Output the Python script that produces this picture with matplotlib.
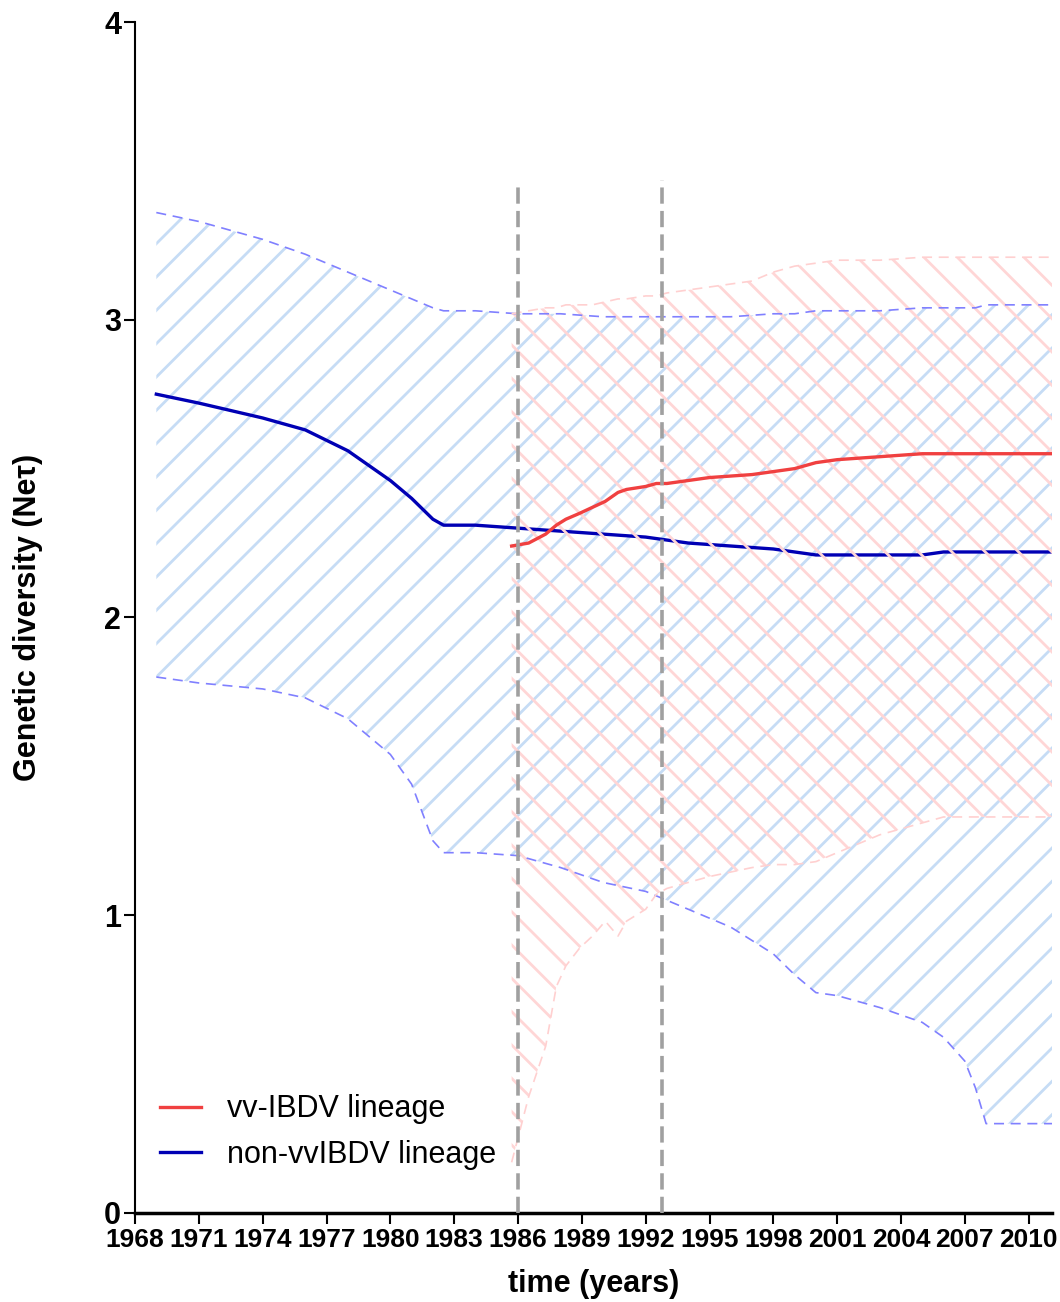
import matplotlib
matplotlib.use("Agg")
import matplotlib.pyplot as plt

plt.rcParams['font.family'] = ['Liberation Sans', 'DejaVu Sans']
plt.rcParams['hatch.linewidth'] = 2.0

# non-vvIBDV lineage (blue)
blue_years = [1969, 1971, 1974, 1976, 1978, 1980, 1981, 1982, 1982.5, 1984, 1986, 1988, 1990,
              1992, 1994, 1996, 1998, 1999, 2000, 2001, 2003, 2005, 2006, 2007, 2007.5, 2008, 2011.1]
blue_median = [2.75, 2.72, 2.67, 2.63, 2.56, 2.46, 2.40, 2.33, 2.31, 2.31, 2.30, 2.29, 2.28,
               2.27, 2.25, 2.24, 2.23, 2.22, 2.21, 2.21, 2.21, 2.21, 2.22, 2.22, 2.22, 2.22, 2.22]
blue_upper = [3.36, 3.33, 3.27, 3.22, 3.16, 3.10, 3.07, 3.04, 3.03, 3.03, 3.02, 3.02, 3.01,
              3.01, 3.01, 3.01, 3.02, 3.02, 3.03, 3.03, 3.03, 3.04, 3.04, 3.04, 3.04, 3.05, 3.05]
blue_lower = [1.80, 1.78, 1.76, 1.73, 1.66, 1.54, 1.44, 1.25, 1.21, 1.21, 1.20, 1.16, 1.11,
              1.08, 1.02, 0.96, 0.87, 0.80, 0.74, 0.73, 0.69, 0.64, 0.59, 0.51, 0.42, 0.30, 0.30]

# vv-IBDV lineage (red)
red_years = [1985.7, 1986.5, 1987.3, 1987.8, 1988.25, 1988.9, 1989.5, 1990.1, 1990.7, 1991.1, 1992,
             1992.5, 1993, 1995, 1997, 1998, 1999, 2000, 2001, 2003, 2005, 2006, 2011.1]
red_median = [2.24, 2.25, 2.28, 2.31, 2.33, 2.35, 2.37, 2.39, 2.42, 2.43, 2.44,
              2.45, 2.45, 2.47, 2.48, 2.49, 2.50, 2.52, 2.53, 2.54, 2.55, 2.55, 2.55]
red_upper = [3.02, 3.03, 3.04, 3.04, 3.05, 3.05, 3.05, 3.06, 3.07, 3.07, 3.08,
             3.08, 3.09, 3.11, 3.13, 3.16, 3.18, 3.19, 3.20, 3.20, 3.21, 3.21, 3.21]
red_lower = [0.17, 0.39, 0.56, 0.76, 0.83, 0.89, 0.93, 0.98, 0.93, 0.98, 1.02,
             1.07, 1.09, 1.13, 1.16, 1.17, 1.17, 1.18, 1.21, 1.27, 1.31, 1.33, 1.33]

event_years = [1986, 1992.75]
event_tops = [3.46, 3.47]
tick_years = list(range(1968, 2011, 3))

fig = plt.figure(figsize=(10.6, 13.02), dpi=100)
ax = fig.add_axes([0.1274, 0.0684, 0.8651, 0.9147])

# blue band + median
ax.fill_between(blue_years, blue_lower, blue_upper, facecolor='none',
                edgecolor='#c6dcf5', hatch='/', linewidth=0, zorder=1)
ax.plot(blue_years, blue_median, color='#0000b4', lw=2.4, zorder=2,
        label='non-vvIBDV lineage')

# red band on top
ax.fill_between(red_years, red_lower, red_upper, facecolor='none',
                edgecolor='#ffd6d6', hatch='\\', linewidth=0, zorder=3)
ax.plot(blue_years, blue_upper, color='#8080ff', lw=1.2, ls=(0, (6, 4)), zorder=4)
ax.plot(blue_years, blue_lower, color='#8080ff', lw=1.2, ls=(0, (6, 4)), zorder=4)
ax.plot(red_years, red_upper, color='#ffd0d0', lw=1.2, ls=(0, (6, 4)), zorder=4)
ax.plot(red_years, red_lower, color='#ffd0d0', lw=1.2, ls=(0, (6, 4)), zorder=4)
ax.plot(red_years, red_median, color='#f04040', lw=2.4, zorder=5,
        label='vv-IBDV lineage')

ax.vlines(event_years, 0, event_tops, colors='#a0a0a0', lw=2.6,
          linestyles=(0, (4.5, 2)), zorder=6)

ax.set_xlim(1968, 2011.1)
ax.set_ylim(0, 4)
ax.set_xticks(tick_years)
ax.set_yticks([0, 1, 2, 3, 4])
for s in ['top', 'right']:
    ax.spines[s].set_visible(False)
ax.spines['left'].set_linewidth(1.5)
ax.spines['bottom'].set_linewidth(2.5)
ax.tick_params(axis='both', length=8, width=1.5, pad=3)
ax.tick_params(axis='x', labelsize=19)
ax.tick_params(axis='y', labelsize=22, pad=2)
for lab in ax.get_xticklabels() + ax.get_yticklabels():
    lab.set_fontweight('bold')

ax.set_xlabel('time (years)', fontsize=22, fontweight='bold', labelpad=12)
ax.set_ylabel('Genetic diversity (Ne\u03c4)', fontsize=22, fontweight='bold', labelpad=44)

h, l = ax.get_legend_handles_labels()
ax.legend(h[::-1], l[::-1], loc='center left', bbox_to_anchor=(0.027, 0.068),
          frameon=False, fontsize=22, handlelength=1.35, handletextpad=0.85,
          labelspacing=0.5, borderpad=0, borderaxespad=0)

fig.savefig('out.png', dpi=100)
